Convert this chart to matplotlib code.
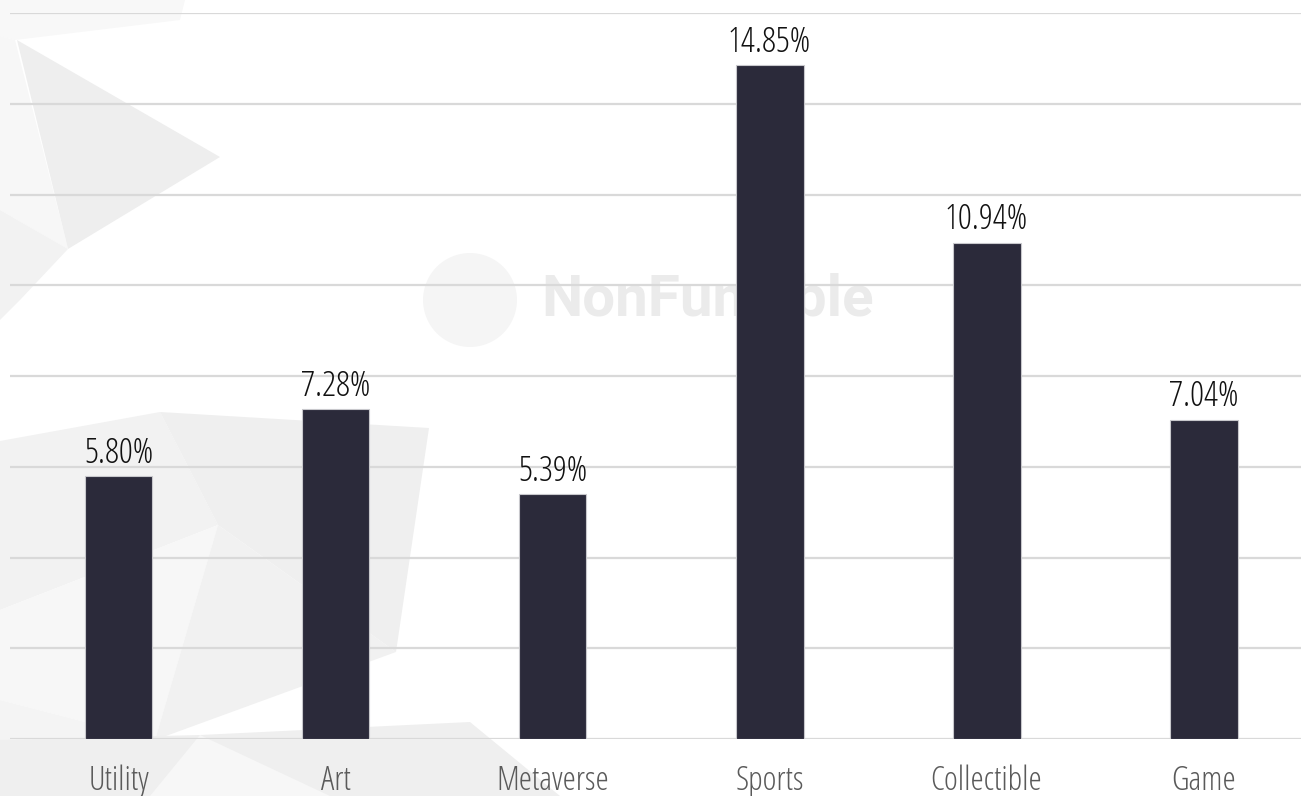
import matplotlib
matplotlib.use("Agg")
import matplotlib.pyplot as plt
from matplotlib import font_manager
from matplotlib.patches import Polygon, Ellipse

# data
categories = ["Utility", "Art", "Metaverse", "Sports", "Collectible", "Game"]
values = [5.80, 7.28, 5.39, 14.85, 10.94, 7.04]
labels = ["5.80%", "7.28%", "5.39%", "14.85%", "10.94%", "7.04%"]
yticks = [0, 2, 4, 6, 8, 10, 12, 14, 16]

W, H = 1301, 796

# pick a condensed light font
fonts = {(f.name, f.stretch) for f in font_manager.fontManager.ttflist}
if ("Open Sans", "condensed") in fonts:
    fkw = dict(family="Open Sans", stretch="condensed", weight=300)
elif any(n == "Roboto Condensed" for n, _ in fonts):
    fkw = dict(family="Roboto Condensed", weight="light")
else:
    fkw = dict(family="DejaVu Sans", stretch="condensed")

fig = plt.figure(figsize=(W / 100, H / 100), dpi=100)
fig.patch.set_facecolor("white")

# low-poly background, pixel coords from top-left
def px(pts):
    return [(x / W, 1 - y / H) for x, y in pts]

bg_polys = [
    ([(0, 0), (185, 0), (180, 20), (15, 40), (0, 36)], "#f8f8f8"),
    ([(0, 36), (15, 40), (68, 249), (0, 210)], "#f7f7f7"),
    ([(17, 40), (220, 157), (68, 249)], "#eeeeee"),
    ([(0, 210), (68, 249), (20, 300), (0, 320)], "#f2f2f2"),
    ([(0, 441), (160, 412), (218, 525), (0, 610)], "#f2f2f2"),
    ([(160, 412), (429, 428), (396, 652), (218, 525)], "#efefef"),
    ([(0, 610), (218, 525), (155, 740), (0, 700)], "#f7f7f7"),
    ([(218, 525), (396, 652), (155, 740)], "#f1f1f1"),
    ([(0, 700), (155, 740), (0, 760)], "#f4f4f4"),
    ([(0, 740), (200, 735), (470, 722), (560, 796), (0, 796)], "#efefef"),
    ([(200, 735), (150, 796), (330, 796)], "#f7f7f7"),
]
for pts, c in bg_polys:
    fig.patches.append(Polygon(px(pts), closed=True, transform=fig.transFigure,
                               facecolor=c, edgecolor="none", zorder=-10))

# watermark
fig.patches.append(Ellipse((470 / W, 1 - 300 / H), 94 / W, 94 / H, transform=fig.transFigure,
                           facecolor="#f5f5f5", edgecolor="none", zorder=-9))
fig.text(541 / W, 1 - 316 / H, "NonFungible", fontsize=42, fontweight="bold",
         color="#ebebeb", family="Roboto", va="baseline", ha="left", zorder=-8)

ax = fig.add_axes([10 / W, 57 / H, 1291 / W, 726 / H])
ax.patch.set_alpha(0)

x = list(range(len(categories)))
ax.bar(x, values, width=0.313, color="#2b2a3a", edgecolor="#c8c8cc", linewidth=0.8, zorder=3)

for xi, v, lab in zip(x, values, labels):
    ax.text(xi, v + 0.29, lab, ha="center", va="baseline", fontsize=25,
            color="#111111", zorder=4, **fkw)

# category names, baseline just above the bottom edge
for xi, cat in zip(x, categories):
    ax.text(xi, -51 / 726, cat, transform=ax.get_xaxis_transform(), ha="center",
            va="baseline", fontsize=24, color="#5a5a5a", **fkw)

ax.set_xlim(-0.5, 5.449)
ax.set_ylim(0, 16)
ax.set_yticks(yticks)
ax.set_xticks(x)
ax.yaxis.grid(True, color="#d9d9d9", linewidth=1.6, zorder=1)
ax.set_axisbelow(True)
ax.tick_params(left=False, labelleft=False, bottom=False, labelbottom=False)
for s in ax.spines.values():
    s.set_visible(False)

fig.savefig("out.png", dpi=100)
